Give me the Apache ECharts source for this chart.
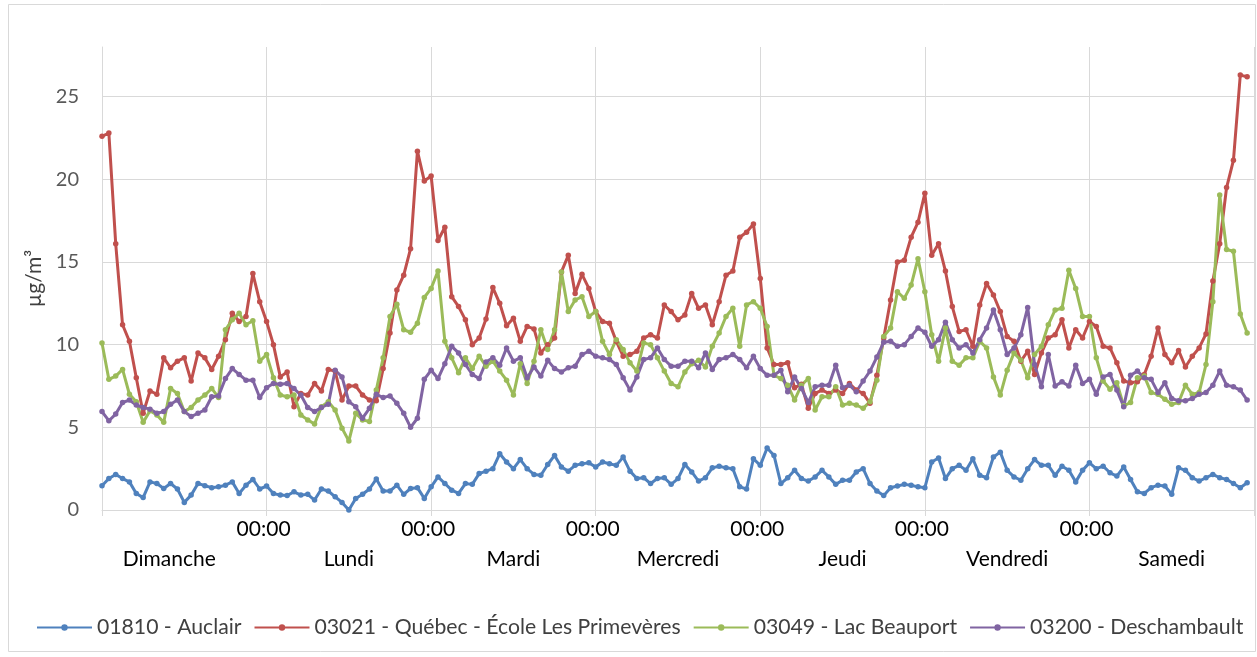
<!DOCTYPE html>
<html>
<head>
<meta charset="utf-8">
<script src="https://cdn.jsdelivr.net/npm/echarts@6/dist/echarts.min.js"></script>
<style>
  html, body { margin: 0; padding: 0; background: #ffffff; }
  #chart { width: 1257px; height: 657px; }
</style>
</head>
<body>
<div id="chart"></div>
<script>
// Hourly PM2.5 concentrations (µg/m³) over one week, 24 readings per day.
const days = ['Dimanche', 'Lundi', 'Mardi', 'Mercredi', 'Jeudi', 'Vendredi', 'Samedi'];
const hourTickLabel = '00:00';
const yTicks = [0, 5, 10, 15, 20, 25];

const stationNames = [
  '01810 - Auclair',
  '03021 - Québec - École Les Primevères',
  '03049 - Lac Beauport',
  '03200 - Deschambault'
];

const auclair = [
  1.47, 1.9, 2.15, 1.9, 1.7, 1.0, 0.75, 1.7, 1.6, 1.3, 1.6, 1.27, 0.46, 0.9, 1.6, 1.47, 1.35, 1.4, 1.5, 1.7, 1.0, 1.5, 1.85, 1.27,
  1.45, 1.0, 0.9, 0.87, 1.1, 0.9, 0.95, 0.6, 1.27, 1.15, 0.8, 0.46, 0.0, 0.7, 0.95, 1.27, 1.87, 1.15, 1.15, 1.5, 0.95, 1.3, 1.35, 0.7,
  1.4, 2.0, 1.6, 1.2, 1.0, 1.6, 1.55, 2.2, 2.35, 2.5, 3.4, 2.9, 2.5, 3.05, 2.5, 2.15, 2.1, 2.75, 3.3, 2.6, 2.35, 2.7, 2.8, 2.85,
  2.6, 2.9, 2.8, 2.7, 3.2, 2.35, 1.9, 1.95, 1.6, 1.9, 1.95, 1.55, 1.9, 2.75, 2.3, 1.75, 1.95, 2.55, 2.65, 2.55, 2.5, 1.4, 1.27, 3.1,
  2.7, 3.75, 3.3, 1.6, 1.95, 2.4, 1.9, 1.75, 2.0, 2.4, 2.0, 1.55, 1.8, 1.8, 2.3, 2.5, 1.6, 1.15, 0.87, 1.35, 1.45, 1.55, 1.5, 1.4,
  1.35, 2.9, 3.15, 1.9, 2.5, 2.7, 2.4, 3.1, 2.1, 1.95, 3.2, 3.5, 2.4, 2.0, 1.8, 2.5, 3.05, 2.7, 2.7, 2.1, 2.65, 2.4, 1.7, 2.4,
  2.85, 2.5, 2.65, 2.25, 2.05, 2.6, 1.85, 1.1, 1.0, 1.35, 1.5, 1.45, 0.95, 2.55, 2.4, 1.95, 1.75, 1.95, 2.15, 1.95, 1.85, 1.6, 1.35, 1.65
];

const quebecPrimeveres = [
  22.6, 22.8, 16.1, 11.2, 10.2, 8.0, 5.85, 7.2, 7.0, 9.2, 8.6, 9.0, 9.2, 7.8, 9.5, 9.2, 8.5, 9.3, 10.3, 11.9, 11.4, 11.7, 14.3, 12.6,
  11.4, 10.0, 8.05, 8.35, 6.25, 7.05, 6.95, 7.65, 7.2, 8.5, 8.4, 6.65, 7.5, 7.5, 6.95, 6.65, 6.6, 8.55, 10.7, 13.3, 14.2, 15.8, 21.7, 19.9,
  20.2, 16.3, 17.1, 12.9, 12.3, 11.5, 10.0, 10.4, 11.55, 13.45, 12.5, 11.15, 11.6, 10.2, 11.1, 10.95, 9.5, 10.0, 10.4, 14.4, 15.4, 13.1, 14.25, 13.4,
  12.0, 11.4, 11.3, 10.2, 9.3, 9.4, 9.6, 10.4, 10.6, 10.4, 12.4, 12.0, 11.5, 11.8, 13.1, 12.2, 12.4, 11.2, 12.6, 14.2, 14.45, 16.5, 16.8, 17.3,
  14.0, 9.8, 8.8, 8.8, 8.9, 7.4, 7.6, 6.15, 7.05, 7.25, 7.05, 7.25, 7.05, 7.65, 7.25, 7.05, 6.45, 8.15, 10.4, 12.7, 15.0, 15.1, 16.5, 17.4,
  19.15, 15.4, 16.1, 14.45, 12.3, 10.8, 10.9, 9.9, 12.4, 13.7, 13.0, 12.0, 10.5, 10.2, 9.0, 9.6, 8.2, 9.5, 10.4, 10.6, 11.5, 9.8, 10.9, 10.4,
  11.4, 11.1, 9.9, 9.8, 8.9, 7.8, 7.7, 7.75, 8.2, 9.3, 11.0, 9.4, 8.9, 9.65, 8.65, 9.3, 9.8, 10.65, 13.85, 16.1, 19.5, 21.15, 26.3, 26.2
];

const lacBeauport = [
  10.1, 7.9, 8.1, 8.5, 7.0, 6.55, 5.3, 6.0, 5.75, 5.3, 7.35, 7.05, 5.95, 6.2, 6.65, 6.95, 7.35, 6.8, 10.9, 11.5, 11.9, 11.2, 11.45, 9.0,
  9.4, 8.0, 6.95, 6.85, 6.95, 5.75, 5.45, 5.2, 6.25, 6.55, 6.05, 4.95, 4.17, 5.85, 5.45, 5.35, 7.25, 9.2, 11.7, 12.45, 10.9, 10.75, 11.3, 12.85,
  13.4, 14.45, 10.2, 9.2, 8.3, 9.2, 8.55, 9.3, 8.7, 9.0, 8.4, 7.85, 6.95, 8.85, 7.65, 9.0, 10.9, 9.7, 10.9, 14.4, 12.0, 12.7, 12.9, 11.7,
  12.0, 10.2, 9.4, 10.3, 9.7, 8.9, 8.4, 10.1, 10.0, 9.2, 8.4, 7.65, 7.45, 8.35, 8.85, 9.05, 8.65, 9.9, 10.7, 11.7, 12.2, 9.9, 12.4, 12.6,
  12.2, 11.1, 8.15, 7.95, 7.55, 6.65, 7.55, 7.95, 6.05, 6.85, 6.85, 7.45, 6.35, 6.45, 6.35, 6.15, 6.55, 7.85, 10.5, 11.0, 13.2, 12.8, 13.6, 15.2,
  13.2, 10.6, 9.0, 11.0, 9.0, 8.75, 9.2, 9.2, 10.2, 9.8, 8.05, 6.95, 8.45, 9.5, 9.05, 8.0, 9.4, 9.9, 11.2, 12.1, 12.2, 14.5, 13.4, 11.7,
  11.7, 9.2, 7.8, 7.3, 7.7, 6.3, 6.5, 8.0, 8.1, 7.1, 7.0, 6.7, 6.4, 6.5, 7.55, 7.0, 7.1, 8.8, 12.6, 19.05, 15.75, 15.65, 11.85, 10.7
];

const deschambault = [
  5.95, 5.4, 5.8, 6.5, 6.65, 6.35, 6.2, 6.1, 5.85, 5.95, 6.4, 6.65, 5.95, 5.65, 5.85, 6.05, 6.85, 6.9, 7.95, 8.55, 8.2, 7.85, 7.85, 6.8,
  7.4, 7.65, 7.6, 7.65, 7.35, 6.95, 6.2, 5.95, 6.2, 6.4, 8.45, 8.05, 6.55, 6.25, 5.55, 6.15, 7.0, 6.8, 6.9, 6.45, 5.85, 5.0, 5.55, 7.9,
  8.45, 7.95, 8.85, 9.9, 9.5, 8.8, 8.2, 7.95, 8.95, 9.2, 8.75, 9.8, 9.0, 9.2, 8.0, 8.65, 8.1, 9.05, 8.55, 8.35, 8.6, 8.7, 9.4, 9.6,
  9.3, 9.2, 9.1, 8.8, 8.0, 7.25, 8.05, 9.1, 9.2, 9.8, 9.1, 8.7, 8.7, 9.0, 9.0, 8.6, 9.5, 8.5, 9.1, 9.2, 9.4, 9.1, 8.6, 9.3,
  8.55, 8.15, 8.15, 8.45, 7.15, 8.05, 7.35, 6.5, 7.45, 7.55, 7.55, 8.75, 7.4, 7.55, 7.15, 7.8, 8.4, 9.25, 10.15, 10.2, 9.9, 10.0, 10.5, 11.0,
  10.75, 9.9, 10.3, 11.35, 10.3, 9.8, 10.0, 9.5, 10.3, 11.0, 12.1, 10.9, 9.4, 9.8, 10.6, 12.25, 8.8, 7.45, 9.4, 7.5, 7.75, 7.5, 8.75, 7.65,
  7.9, 7.0, 8.05, 8.2, 7.25, 6.25, 8.15, 8.4, 8.0, 7.9, 7.1, 7.7, 6.75, 6.6, 6.6, 6.75, 7.0, 7.1, 7.55, 8.4, 7.55, 7.45, 7.25, 6.65
];

const stationValues = [auclair, quebecPrimeveres, lacBeauport, deschambault];
const stationColors = ['#4F81BD', '#C0504D', '#9BBB59', '#8064A2'];

const HOURS_PER_DAY = 24;
const totalHours = days.length * HOURS_PER_DAY;
const FONT = 'Lato, "Open Sans", sans-serif';
const GRID_COLOR = '#d9d9d9';

// Pair each reading with its hour index so the value axis places it.
const toPoints = values => values.map((v, i) => [i, v]);

const chart = echarts.init(document.getElementById('chart'), null, { renderer: 'canvas' });

chart.setOption({
  animation: false,
  backgroundColor: '#ffffff',
  textStyle: { fontFamily: FONT },
  graphic: [{
    type: 'rect',
    shape: { x: 8.5, y: 4.5, width: 1247, height: 647 },
    style: { fill: 'none', stroke: GRID_COLOR, lineWidth: 1 },
    silent: true,
    z: -10
  }],
  grid: { left: 102, right: 3, top: 47, bottom: 147, containLabel: false },
  legend: {
    data: stationNames,
    orient: 'horizontal',
    left: 36,
    top: 617,
    width: 1220,
    padding: 0,
    itemWidth: 55,
    itemHeight: 8,
    itemGap: 12,
    textStyle: { fontFamily: FONT, fontSize: 21.2, color: '#404040', padding: [0, 0, 0, 0] }
  },
  xAxis: [
    {
      type: 'value',
      min: 0,
      max: totalHours,
      interval: HOURS_PER_DAY,
      axisLine: { show: true, lineStyle: { color: GRID_COLOR, width: 1 } },
      axisTick: { show: true, length: 6, lineStyle: { color: GRID_COLOR } },
      splitLine: { show: true, lineStyle: { color: GRID_COLOR, width: 1 } },
      axisLabel: {
        margin: 9,
        color: '#000000',
        fontFamily: FONT,
        fontSize: 21,
        formatter: v => (v > 0 && v < totalHours) ? '{h|' + hourTickLabel + '}' : '',
        rich: { h: { padding: [0, 6, 0, 0], fontFamily: FONT, fontSize: 21, color: '#000000' } }
      }
    },
    {
      type: 'category',
      data: days,
      position: 'bottom',
      offset: 30,
      boundaryGap: true,
      axisLine: { show: false },
      axisTick: { show: false },
      splitLine: { show: false },
      axisLabel: {
        margin: 9,
        color: '#000000',
        fontFamily: FONT,
        fontSize: 21,
        interval: 0,
        formatter: (v, i) => i === 0 ? '{first|' + v + '}' : v,
        rich: { first: { padding: [0, 30, 0, 0], fontFamily: FONT, fontSize: 21, color: '#000000' } }
      }
    }
  ],
  yAxis: {
    type: 'value',
    min: 0,
    max: 28,
    interval: 5,
    name: 'µg/m³',
    nameLocation: 'middle',
    nameGap: 52,
    nameRotate: 90,
    nameTextStyle: { fontFamily: FONT, fontSize: 21, color: '#404040' },
    axisLine: { show: true, lineStyle: { color: GRID_COLOR, width: 1 } },
    axisTick: { show: false },
    splitLine: { show: true, showMaxLine: false, lineStyle: { color: GRID_COLOR, width: 1 } },
    axisLabel: {
      margin: 23,
      color: '#595959',
      fontFamily: FONT,
      fontSize: 20,
      showMaxLabel: false,
      formatter: v => (yTicks.indexOf(v) >= 0 ? String(v) : '')
    }
  },
  series: stationNames.map((name, k) => ({
    name: name,
    type: 'line',
    xAxisIndex: 0,
    data: toPoints(stationValues[k]),
    symbol: 'circle',
    symbolSize: 5.5,
    showSymbol: true,
    lineStyle: { width: 3, color: stationColors[k] },
    itemStyle: { color: stationColors[k] },
    emphasis: { disabled: true }
  }))
});
</script>
</body>
</html>
